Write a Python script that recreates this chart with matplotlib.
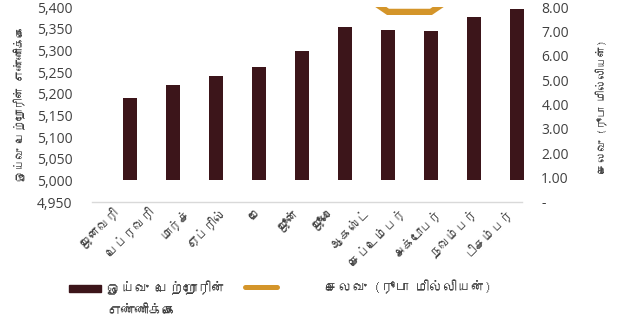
import matplotlib
matplotlib.use('Agg')
import matplotlib.pyplot as plt
import matplotlib.transforms as mtransforms
from matplotlib import font_manager
from matplotlib.ticker import FuncFormatter
from matplotlib.patches import Rectangle
from matplotlib.lines import Line2D
import numpy as np

months = ['ஜனவரி', 'பெப்ரவரி', 'மார்ச்', 'ஏப்ரில்', 'மே', 'ஜூன்', 'ஜூலை',
          'ஆகஸ்ட்', 'செப்டெம்பர்', 'அக்டோபர்', 'நவம்பர்', 'டிசம்பர்']
retirees = [5189, 5220, 5241, 5262, 5298, 5353, 5346, 5345, 5378, 5396]
spending = [8.6, 8.8, 9.0, 9.1, 9.3, 9.0, 7.8, 7.8, 9.0, 9.2]

left_ticks = np.arange(4950, 5401, 50)
right_ticks = np.arange(0, 9, 1)

bar_label = 'ஓய்வு பெற்றோரின்\nஎண்ணிக்கை'
line_label = 'செலவு (ரூபா மில்லியன்)'
left_title = 'ஓய்வு பெற்றோரின் எண்ணிக்கை'
right_title = 'செலவு (ரூபா மில்லியன்)'

BAR_COL = '#3C151A'
LINE_COL = '#D4952A'
TXT_COL = '#404040'


def find_tamil_font():
    # look for any installed font that has Tamil glyphs
    try:
        from fontTools.ttLib import TTFont
    except ImportError:
        return None
    for f in font_manager.fontManager.ttflist:
        try:
            tt = TTFont(f.fname, fontNumber=0, lazy=True)
            cmap = tt.getBestCmap()
            if cmap and 0x0B95 in cmap:
                return f.name
        except Exception:
            pass
    return None


tamil = find_tamil_font()
fams = [tamil, 'DejaVu Sans'] if tamil else ['DejaVu Sans']
num_fam = ['Open Sans', 'DejaVu Sans']

W, H = 618, 321
fig = plt.figure(figsize=(W / 100, H / 100), dpi=100)

# bars live on a 10-slot axis: centre of slot i at 130 + 43 i px
x_left = (92 - 130) / 43
x_right = (538.5 - 130) / 43
ax = fig.add_axes([92 / W, (H - 202) / H, (538.5 - 92) / W, 195 / H])

x = np.arange(len(retirees))
ax.bar(x, np.array(retirees) - 5000, bottom=5000, width=0.31, color=BAR_COL, zorder=2)
ax.set_xlim(x_left, x_right)
ax.set_ylim(4950, 5400)
ax.set_yticks(left_ticks)
ax.yaxis.set_major_formatter(FuncFormatter(lambda v, p: f'{v:,.0f}'))
ax.tick_params(axis='y', length=0, pad=14, labelsize=10, labelcolor=TXT_COL)
for lab in ax.get_yticklabels():
    lab.set_family(num_fam)
for s in ['top', 'left', 'right']:
    ax.spines[s].set_visible(False)
ax.spines['bottom'].set_color('#d9d9d9')
ax.spines['bottom'].set_linewidth(1.0)

# month axis: 12 categories across the baseline
span = 430 / 43
ax.spines['bottom'].set_bounds(x_left, x_left + span)
month_pos = x_left + (np.arange(len(months)) + 0.5) * span / len(months)
ax.set_xticks(month_pos)
ax.set_xticklabels(months, rotation=45, ha='right', va='center', rotation_mode='anchor',
                   fontsize=9, color=TXT_COL, family=fams)
ax.tick_params(axis='x', length=0, pad=6)
shift = mtransforms.ScaledTranslation(7 / 100, 0, fig.dpi_scale_trans)
for lab in ax.get_xticklabels():
    lab.set_transform(lab.get_transform() + shift)

ax2 = ax.twinx()
ax2.plot(x, spending, color=LINE_COL, lw=4.5, solid_capstyle='round', solid_joinstyle='miter', zorder=3)
ax2.set_ylim(0, 8)
ax2.set_yticks(right_ticks)
ax2.yaxis.set_major_formatter(FuncFormatter(lambda v, p: '-' if v == 0 else f'{v:.2f}'))
ax2.tick_params(axis='y', length=0, pad=2, labelsize=10, labelcolor=TXT_COL)
for lab in ax2.get_yticklabels():
    lab.set_family(num_fam)
for s in ax2.spines.values():
    s.set_visible(False)

fig.text(20 / W, 1 - 103 / H, left_title, rotation=90, ha='center', va='center',
         fontsize=8, color=TXT_COL, family=fams)
fig.text(602 / W, 1 - 106 / H, right_title, rotation=90, ha='center', va='center',
         fontsize=8, color=TXT_COL, family=fams)

# legend
fig.add_artist(Rectangle((69 / W, (H - 292) / H), 32 / W, 7 / H, transform=fig.transFigure,
                         color=BAR_COL))
fig.text(107 / W, 1 - 281 / H, bar_label, ha='left', va='top', fontsize=10,
         color=TXT_COL, family=fams, linespacing=2.0)
fig.add_artist(Line2D([245 / W, 277 / W], [1 - 287 / H, 1 - 287 / H], transform=fig.transFigure,
                      color=LINE_COL, lw=3.6, solid_capstyle='round'))
fig.text(325 / W, 1 - 287 / H, line_label, ha='left', va='center', fontsize=10,
         color=TXT_COL, family=fams)

fig.savefig('out.png', dpi=100)
